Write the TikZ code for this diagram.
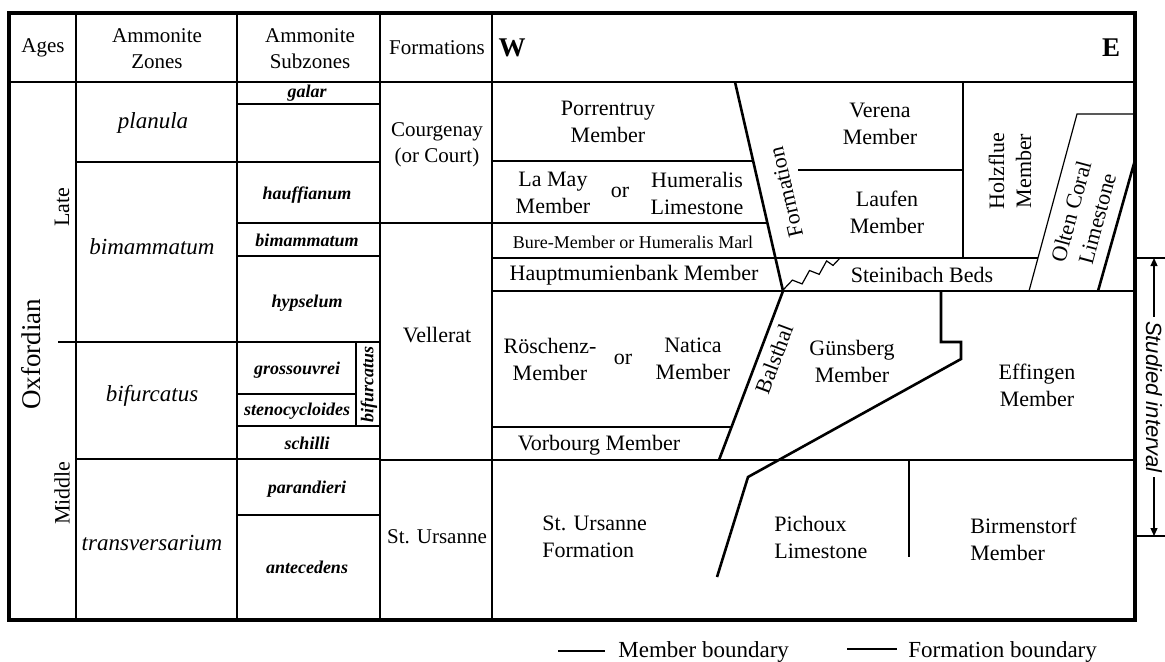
\documentclass[tikz,border=0pt]{standalone}
\usepackage{fontspec}
\setmainfont{Liberation Serif}
\newfontfamily\sidefont{Liberation Sans}
\usetikzlibrary{arrows.meta}

\begin{document}
\begin{tikzpicture}[x=0.5pt, y=-0.5pt,
  mbound/.style={line width=0.6pt},
  gridl/.style={line width=0.9pt},
  fbound/.style={line width=1.3pt},
  frm/.style={line width=1.6pt},
  hdr/.style={font=\fontsize{10.5}{13}\selectfont, align=center, inner sep=0pt},
  lbl/.style={font=\fontsize{11}{13.5}\selectfont, align=center, inner sep=0pt},
  sml/.style={font=\fontsize{9}{11}\selectfont, inner sep=0pt},
  zone/.style={font=\fontsize{11.5}{13}\selectfont\itshape, inner sep=0pt},
  subz/.style={font=\fontsize{9}{11}\selectfont\bfseries\itshape, inner sep=0pt},
  wind/.style={font=\fontsize{13.5}{15}\selectfont\bfseries, inner sep=0pt},
  side/.style={font=\fontsize{11}{13}\selectfont\sidefont\itshape, inner xsep=2pt, inner ysep=0pt},
  lgd/.style={font=\fontsize{11.5}{13}\selectfont, inner sep=0pt, anchor=base west},
  arr/.style={mbound, -{Triangle[length=4pt, width=3.5pt]}}
]
\useasboundingbox (0,0) rectangle (1165,661);

% frame and columns
\draw[frm] (9,13) rectangle (1135,620);
\draw[fbound] (9,82) -- (1135,82);
\foreach \cx in {76,237,380,492}
  \draw[gridl] (\cx,13) -- (\cx,620);

% headers
\node[hdr] (ages)  at (43,48)  {Ages};
\node[hdr] (zonH)  at (157,49) {Ammonite\\Zones};
\node[hdr] (subH)  at (310,49) {Ammonite\\Subzones};
\node[hdr] (frmH)  at (437,48) {Formations};
\node[wind] (west) at (512,48) {W};
\node[wind] (east) at (1111,48) {E};

% ages
\draw[gridl] (58,342) -- (76,342);
\node[lbl, rotate=90, font=\fontsize{13.5}{15}\selectfont] (oxf) at (31,354) {Oxfordian};
\node[lbl, rotate=90] (late)   at (62,207) {Late};
\node[lbl, rotate=90] (middle) at (62,493) {Middle};

% ammonite zones
\foreach \ry in {162,342,459}
  \draw[gridl] (76,\ry) -- (237,\ry);
\node[zone] (planula) at (153,123) {planula};
\node[zone] (bimZ)    at (152,247) {bimammatum};
\node[zone] (bifZ)    at (152,396) {bifurcatus};
\node[zone] (transv)  at (152,543) {transversarium};

% ammonite subzones
\foreach \ry in {104,223,256,426,515}
  \draw[mbound] (237,\ry) -- (380,\ry);
\foreach \ry in {162,342,459}
  \draw[gridl] (237,\ry) -- (380,\ry);
\draw[mbound] (237,394) -- (356,394);
\draw[mbound] (356,342) -- (356,426);
\node[subz] (galar)   at (307,93)  {galar};
\node[subz] (hauff)   at (307,195) {hauffianum};
\node[subz] (bimS)    at (307,240) {bimammatum};
\node[subz] (hypsel)  at (307,303) {hypselum};
\node[subz] (gross)   at (297,370) {grossouvrei};
\node[subz] (steno)   at (297,411) {stenocycloides};
\node[subz, rotate=90] (bifS) at (369,384) {bifurcatus};
\node[subz] (schilli) at (307,443) {schilli};
\node[subz] (parand)  at (307,489) {parandieri};
\node[subz] (antec)   at (307,567) {antecedens};

% formations
\node[hdr] (courg) at (437,145) {Courgenay\\(or Court)};
\node[lbl] (vell)  at (437,335) {Vellerat};
\node[hdr] (stU)   at (437,537) {St. Ursanne};

% member boundaries
\draw[mbound] (492,161) -- (753,161);
\draw[mbound] (492,258) -- (1038,258);
\draw[mbound] (492,427) -- (731,427);
\draw[mbound] (778,460) -- (1135,460);
\draw[mbound] (798,170) -- (963,170);
\draw[mbound] (963,82) -- (963,258);
\draw[mbound] (1029,291) -- (1077,114) -- (1135,114);
\draw[mbound] (909,460) -- (909,557);
\draw[mbound] (783,290) -- (792.4,280.1) -- (802.1,283.9) -- (809.5,270.5)
  -- (819.2,274.3) -- (826.6,260.9) -- (833,265.4) -- (840,258);

% formation boundaries
\draw[fbound] (380,223) -- (767,223);
\draw[fbound] (492,291) -- (1135,291);
\draw[fbound] (380,460) -- (778,460);
\draw[fbound] (735,82) -- (783,291) -- (719,460);
\draw[fbound] (1098,291) -- (1135,160);
\draw[fbound] (941,291) -- (941,342) -- (961,342) -- (961,359) -- (748,477) -- (717,577);

% members
\node[lbl] (porr)   at (608,122) {Porrentruy\\Member};
\node[lbl] (lamay)  at (553,193) {La May\\Member};
\node[lbl] (or1)    at (620,192) {or};
\node[lbl] (humL)   at (697,193) {Humeralis\\Limestone};
\node[sml] (bure)   at (633,242) {Bure-Member or Humeralis Marl};
\node[lbl] (haupt)  at (634,275) {Hauptmumienbank Member};
\node[lbl, rotate=103] (form) at (786,192) {Formation};
\node[lbl] (verena) at (880,124) {Verena\\Member};
\node[lbl] (laufen) at (887,212) {Laufen\\Member};
\node[lbl, rotate=90] (holz)  at (1010,171) {Holzflue\\Member};
\node[lbl, rotate=75] (olten) at (1084,215) {Olten Coral\\Limestone};
\node[lbl] (stein)  at (922,275) {Steinibach Beds};
\node[lbl] (rosch)  at (550,359) {Röschenz-\\Member};
\node[lbl] (or2)    at (623,359) {or};
\node[lbl] (natica) at (693,359) {Natica\\Member};
\node[lbl] (vorb)   at (599,445) {Vorbourg Member};
\node[lbl, rotate=69.5] (balst) at (774,359) {Balsthal};
\node[lbl] (guns)   at (852,361) {Günsberg\\Member};
\node[lbl] (effing) at (1037,385) {Effingen\\Member};
\node[lbl, align=left, anchor=west] (stUF) at (542,537) {St. Ursanne\\Formation};
\node[lbl, align=left, anchor=west] (pich) at (774,537) {Pichoux\\Limestone};
\node[lbl, align=left, anchor=west] (birm) at (970,539) {Birmenstorf\\Member};

% studied interval
\draw[mbound] (1135,258) -- (1165,258);
\draw[mbound] (1135,536) -- (1165,536);
\coordinate (siTop) at (1154,258);
\coordinate (siBot) at (1154,536);
\node[side, rotate=-90] (studied) at (1154,397) {Studied interval};
\draw[arr] (studied.west) -- (siTop);
\draw[arr] (studied.east) -- (siBot);

% legend
\draw[mbound] (558,651) -- (605,651);
\node[lgd] (lgM) at (618,657) {Member boundary};
\draw[fbound] (847,649) -- (897,649);
\node[lgd] (lgF) at (908,657) {Formation boundary};
\end{tikzpicture}
\end{document}
